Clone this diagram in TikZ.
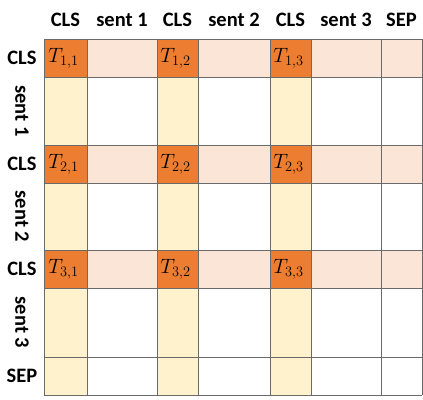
\documentclass[tikz,border=0pt]{standalone}
\usepackage{fontspec}
\setmainfont{Carlito}
\usepackage{tikz}
\definecolor{corange}{HTML}{ED7D31}
\definecolor{cpink}{HTML}{FBE5D6}
\definecolor{cyellow}{HTML}{FFF2CC}
\definecolor{cgrid}{HTML}{6A6A6A}
\begin{document}
\begin{tikzpicture}[x=1pt,y=-1pt,
  hd/.style={font=\fontsize{20.5}{22}\selectfont\bfseries,inner sep=0pt},
  tt/.style={font=\fontsize{20}{22}\selectfont,inner sep=0pt},
  gl/.style={draw=cgrid,line width=1pt}]
\useasboundingbox (0,0) rectangle (423,399);
% --- shading: CLS rows pink, CLS columns yellow ---
\foreach \ya/\yb in {39/77,145/183,250/288}
  \fill[cpink] (44,\ya) rectangle (422,\yb);
\foreach \xa/\xb in {44/87,157/198,270/311}
  \fill[cyellow] (\xa,39) rectangle (\xb,395);
% --- CLS x CLS cells ---
\foreach \i/\ya/\yb in {1/39/77,2/145/183,3/250/288}
  \foreach \j/\xa/\xb in {1/44/87,2/157/198,3/270/311} {
    \fill[corange] (\xa,\ya) rectangle (\xb,\yb);
    \node[tt] (t\i\j) at ({(\xa+\xb)/2-2},{(\ya+\yb)/2}) {$T_{\i,\j}$};
  }
% --- grid ---
\foreach \x in {44,87,157,198,270,311,381,422}
  \draw[gl] (\x,39) -- (\x,395);
\foreach \y in {39,77,145,183,250,288,357,395}
  \draw[gl] (44,\y) -- (422,\y);
% --- column headers ---
\node[hd] (h1) at (65.5,20) {CLS};
\node[hd] (h2) at (122,20) {sent 1};
\node[hd] (h3) at (177.5,20) {CLS};
\node[hd] (h4) at (234,20) {sent 2};
\node[hd] (h5) at (290.5,20) {CLS};
\node[hd] (h6) at (346,20) {sent 3};
\node[hd] (h7) at (401.5,20) {SEP};
% --- row headers ---
\node[hd] (r1) at (22,58) {CLS};
\node[hd,rotate=-90] (r2) at (22,111) {sent 1};
\node[hd] (r3) at (22,164) {CLS};
\node[hd,rotate=-90] (r4) at (22,216.5) {sent 2};
\node[hd] (r5) at (22,269) {CLS};
\node[hd,rotate=-90] (r6) at (22,322.5) {sent 3};
\node[hd] (r7) at (22,376) {SEP};
\end{tikzpicture}
\end{document}
